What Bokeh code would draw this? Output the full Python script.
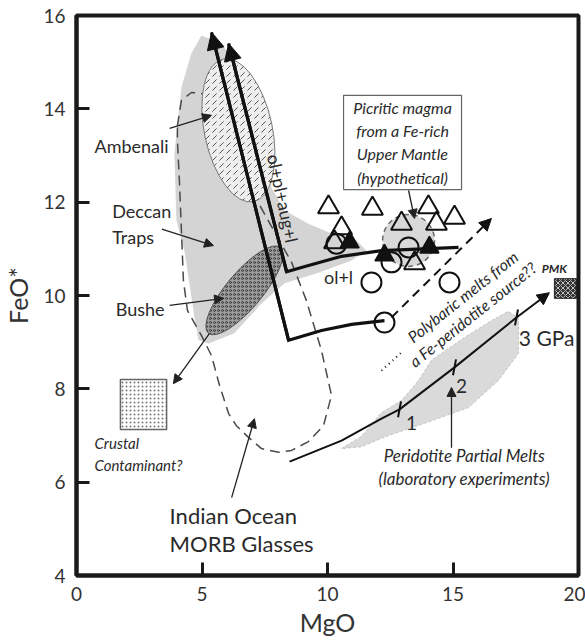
from bokeh.plotting import figure
from bokeh.models import Arrow, NormalHead, Range1d, FixedTicker
from bokeh.core.properties import value
from bokeh.embed import file_html
from bokeh.resources import INLINE

FONT = value("Lato")

# ---------------- data (MgO, FeO*) ----------------
x_ticks = [0, 5, 10, 15, 20]
y_ticks = [4, 6, 8, 10, 12, 14, 16]

deccan_mgo = [4.98, 5.78, 6.69, 7.37, 7.65, 7.77, 8.29, 9.24, 10.16, 11.16, 11.55, 10.96,
              9.64, 8.29, 7.37, 6.29, 5.26, 4.86, 4.70, 4.30, 3.98, 3.90, 4.18, 4.58]
deccan_feo = [15.57, 15.40, 14.67, 13.90, 13.04, 12.31, 11.82, 11.54, 11.33, 11.18, 10.96, 10.75,
              10.49, 10.26, 9.83, 9.19, 8.97, 9.04, 9.53, 10.96, 11.61, 13.04, 14.46, 15.19]

morb_mgo = [4.02, 4.18, 4.58, 4.98, 5.30, 6.97, 8.57, 9.16, 9.76, 10.16, 9.84, 9.24, 8.57, 8.05,
            7.37, 6.85, 6.37, 6.06, 5.70, 5.38, 4.98, 4.42, 4.26, 4.18, 4.10, 4.02, 4.02]
morb_feo = [13.64, 14.18, 14.35, 14.33, 14.18, 12.25, 10.71, 9.89, 8.82, 7.86, 7.21, 6.87, 6.68, 6.64,
            6.72, 6.96, 7.21, 7.47, 8.07, 8.71, 9.14, 9.68, 10.32, 11.39, 12.46, 13.32, 13.64]

perid_mgo = [10.56, 11.35, 12.15, 12.95, 13.63, 14.14, 15.46, 16.53, 17.21, 17.61, 17.61, 16.81,
             15.62, 13.86, 12.43, 11.35]
perid_feo = [6.72, 6.98, 7.49, 7.75, 8.18, 8.61, 9.10, 9.46, 9.66, 9.51, 8.76, 8.18,
             7.60, 7.26, 7.00, 6.76]

ambenali_center = (6.45, 13.54)
bushe_center = (6.69, 10.11)
picritic_center = (13.23, 11.18)

crustal_box = dict(left=1.75, right=3.59, top=8.20, bottom=7.13)
pmk_box = dict(left=19.04, right=19.92, top=10.36, bottom=9.94)
picritic_box = dict(left=10.64, right=15.34, top=14.29, bottom=12.27)

# liquid lines of descent (first point = arrow tip)
lld1_mgo = [5.38, 8.45, 9.76, 10.96, 12.27]
lld1_feo = [15.64, 9.04, 9.25, 9.38, 9.46]
lld2_mgo = [6.06, 8.37, 8.96, 10.56, 12.15, 15.22]
lld2_feo = [15.40, 10.51, 10.60, 10.84, 10.96, 11.03]

polybaric_start = (12.55, 9.53)
polybaric_end = (16.53, 11.65)
dotted_mgo = [12.15, 12.95]
dotted_feo = [8.39, 8.78]

# peridotite partial melt trend
pm_mgo = [8.49, 10.56, 12.15, 12.87, 15.06, 17.53]
pm_feo = [6.44, 6.89, 7.36, 7.56, 8.46, 9.53]
pm_tip = (18.84, 10.06)
gpa_mgo = [12.87, 15.06, 17.53]
gpa_feo = [7.56, 8.46, 9.53]

open_tri_mgo = [10.04, 11.79, 14.02, 15.06, 12.95, 14.34, 10.56, 10.28, 13.47]
open_tri_feo = [11.89, 11.86, 11.89, 11.67, 11.54, 11.54, 11.44, 11.14, 10.69]
fill_tri_mgo = [10.88, 12.27, 14.06]
fill_tri_feo = [11.14, 10.86, 11.03]
circ_mgo = [10.36, 13.23, 12.55, 11.75, 14.86, 12.27]
circ_feo = [11.11, 11.03, 10.71, 10.28, 10.28, 9.42]

# ---------------- figure ----------------
p = figure(frame_width=502, frame_height=560,
           x_range=Range1d(0, 20), y_range=Range1d(4, 16),
           output_backend="svg", toolbar_location=None,
           min_border_left=75, min_border_right=7, min_border_top=15, min_border_bottom=62,
           background_fill_color="white", border_fill_color="white")
p.grid.visible = False
p.outline_line_color = "#1a1a1a"
p.outline_line_width = 4

for ax in (p.xaxis[0], p.yaxis[0]):
    ax.axis_line_width = 4
    ax.axis_line_color = "#1a1a1a"
    ax.major_tick_in = 13
    ax.major_tick_out = 0
    ax.major_tick_line_width = 3
    ax.major_tick_line_color = "#1a1a1a"
    ax.minor_tick_line_color = None
    ax.major_label_text_font = "Lato"
    ax.major_label_text_font_size = "19px"
    ax.major_label_text_color = "#333333"
    ax.major_label_standoff = 11
    ax.axis_label_text_font = "Lato"
    ax.axis_label_text_font_size = "25px"
    ax.axis_label_text_font_style = "normal"
    ax.axis_label_text_color = "#333333"

p.xaxis.ticker = FixedTicker(ticks=x_ticks)
p.yaxis.ticker = FixedTicker(ticks=y_ticks)
p.xaxis.axis_label = "MgO"
p.yaxis.axis_label = "FeO*"
p.xaxis.axis_label_standoff = 3
p.yaxis.axis_label_standoff = 7

# ---------------- regions ----------------
p.patch(deccan_mgo, deccan_feo, fill_color="#d4d4d4", line_color=None)
p.patch(perid_mgo, perid_feo, fill_color="#dadada", line_color="#c4c4c4", line_dash="3 2", line_width=1)
p.scatter([picritic_center[0]], [picritic_center[1]], marker="circle", size=52,
          fill_color="#d8d8d8", line_color="#666666", line_dash="5 4", line_width=1.5)

p.line(morb_mgo, morb_feo, line_color="#4a4a4a", line_width=1.5, line_dash="10 6")

p.ellipse(x=[ambenali_center[0]], y=[ambenali_center[1]], width=68, height=146,
          width_units="screen", height_units="screen", angle=12, angle_units="deg",
          fill_color="#eeeeee", line_color="#777777", line_width=1,
          hatch_pattern="right_diagonal_dash", hatch_color="#555555", hatch_scale=7, hatch_weight=1)
p.ellipse(x=[bushe_center[0]], y=[bushe_center[1]], width=112, height=36,
          width_units="screen", height_units="screen", angle=50, angle_units="deg",
          fill_color="#9c9c9c", line_color="#555555", line_width=1,
          hatch_pattern="ring", hatch_color="#222222", hatch_scale=4, hatch_weight=0.7)

p.quad(**{k: [v] for k, v in crustal_box.items()}, fill_color="white", line_color="#666666",
       line_width=1.5, hatch_pattern="dot", hatch_color="#777777", hatch_scale=4)
p.quad(**{k: [v] for k, v in pmk_box.items()}, fill_color="#333333", line_color="#222222",
       line_width=1, hatch_pattern="diagonal_cross", hatch_color="#bbbbbb", hatch_scale=5, hatch_weight=1)
p.quad(**{k: [v] for k, v in picritic_box.items()}, fill_color="white", line_color="#666666",
       line_width=1.2)

# ---------------- lines ----------------
p.line(lld1_mgo, lld1_feo, line_color="#111111", line_width=3.2, line_join="miter")
p.line(lld2_mgo, lld2_feo, line_color="#111111", line_width=3.2, line_join="miter")
for xs, ys in ((lld1_mgo, lld1_feo), (lld2_mgo, lld2_feo)):
    p.add_layout(Arrow(end=NormalHead(size=17, fill_color="#111111", line_color="#111111"),
                       x_start=xs[1], y_start=ys[1], x_end=xs[0], y_end=ys[0],
                       line_width=3.2, line_color="#111111"))

p.add_layout(Arrow(end=NormalHead(size=12, fill_color="#111111", line_color="#111111"),
                   x_start=polybaric_start[0], y_start=polybaric_start[1],
                   x_end=polybaric_end[0], y_end=polybaric_end[1],
                   line_width=2, line_color="#111111", line_dash="9 6"))
p.line(dotted_mgo, dotted_feo, line_color="#111111", line_width=2, line_dash="1 4")

p.line(pm_mgo, pm_feo, line_color="#111111", line_width=2)
p.add_layout(Arrow(end=NormalHead(size=12, fill_color="#111111", line_color="#111111"),
                   x_start=pm_mgo[-1], y_start=pm_feo[-1], x_end=pm_tip[0], y_end=pm_tip[1],
                   line_width=2, line_color="#111111"))
p.segment(x0=[g - 0.06 for g in gpa_mgo], y0=[f - 0.17 for f in gpa_feo],
          x1=[g + 0.06 for g in gpa_mgo], y1=[f + 0.17 for f in gpa_feo],
          line_color="#111111", line_width=2)

# ---------------- thin arrows ----------------
thin_arrows = [
    ((3.71, 13.58), (5.38, 13.86)),   # Ambenali
    ((3.40, 11.42), (5.46, 11.07)),   # Deccan Traps
    ((3.71, 9.79), (5.86, 9.94)),     # Bushe
    ((5.30, 9.19), (3.86, 8.11)),     # to crustal contaminant
    ((6.18, 5.67), (7.09, 7.36)),     # MORB
    ((14.94, 6.74), (14.94, 8.03)),   # peridotite melts
    ((13.23, 12.25), (13.47, 11.65)), # picritic
]
for (x0, y0), (x1, y1) in thin_arrows:
    p.add_layout(Arrow(end=NormalHead(size=9, fill_color="#222222", line_color="#222222"),
                       x_start=x0, y_start=y0, x_end=x1, y_end=y1,
                       line_width=1.3, line_color="#222222"))

# ---------------- symbols ----------------
p.scatter(open_tri_mgo, open_tri_feo, marker="triangle", size=21, fill_color=None,
          line_color="#111111", line_width=2)
p.scatter(fill_tri_mgo, fill_tri_feo, marker="triangle", size=19, fill_color="#111111",
          line_color="#111111", line_width=1.5)
p.scatter(circ_mgo, circ_feo, marker="circle", size=20, fill_color=None,
          line_color="#111111", line_width=2)

# ---------------- texts ----------------
def txt(x, y, s, size, align="left", style="normal", angle=0, color="#2a2a2a"):
    p.text(x=[x], y=[y], text=[s], text_font=FONT, text_font_size=size,
           text_align=align, text_baseline="middle", text_font_style=style,
           angle=angle, angle_units="deg", text_color=color)

txt(3.67, 13.21, "Ambenali", "18px", align="right")
txt(1.42, 11.82, "Deccan", "18px")
txt(1.42, 11.26, "Traps", "18px")
txt(3.51, 9.72, "Bushe", "18px", align="right")
txt(8.21, 12.08, "ol+pl+aug+l", "17.5px", align="center", angle=-78)
txt(10.44, 10.39, "ol+l", "18px", align="center")

pic_lines = ["Picritic magma", "from a Fe-rich", "Upper Mantle", "(hypothetical)"]
pic_y = [14.03, 13.54, 13.04, 12.53]
for s, y in zip(pic_lines, pic_y):
    txt(12.99, y, s, "16px", align="center", style="italic")

txt(15.38, 9.98, "Polybaric melts from", "16px", align="center", style="italic", angle=38.5)
txt(15.78, 9.60, "a Fe-peridotite source??", "16px", align="center", style="italic", angle=38.5)

txt(19.04, 10.58, "PMK", "12px", align="center", style="bold italic")
txt(13.35, 7.26, "1", "19px", align="center")
txt(15.34, 8.07, "2", "19px", align="center")
txt(18.73, 9.10, "3 GPa", "21px", align="center")
txt(15.45, 6.57, "Peridotite Partial Melts", "17px", align="center", style="italic")
txt(15.45, 6.08, "(laboratory experiments)", "17px", align="center", style="italic")

txt(0.72, 6.85, "Crustal", "15px", style="italic")
txt(0.72, 6.36, "Contaminant?", "15px", style="italic")
txt(3.71, 5.29, "Indian Ocean", "22px")
txt(3.71, 4.69, "MORB Glasses", "22px")

open("out.html", "w").write(file_html(p, INLINE))
